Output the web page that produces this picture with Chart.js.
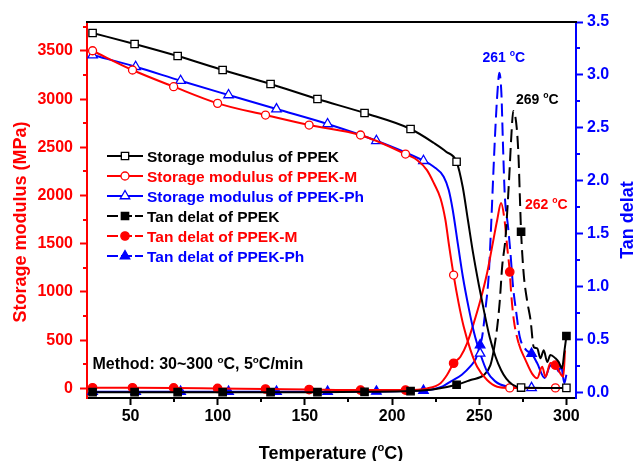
<!DOCTYPE html>
<html><head><meta charset="utf-8">
<script src="https://cdn.jsdelivr.net/npm/chart.js@4/dist/chart.umd.min.js"></script>
<style>html,body{margin:0;padding:0;background:#fff}</style>
</head><body>
<canvas id="c" width="633" height="461"></canvas>
<script>
// ---------- tick labels ----------
const xTicks = [50, 100, 150, 200, 250, 300];
const xMinorTicks = [75, 125, 175, 225, 275];
const yLeftTicks = [0, 500, 1000, 1500, 2000, 2500, 3000, 3500];
const yLeftMinorTicks = [250, 750, 1250, 1750, 2250, 2750, 3250, 3750];
const yRightTicks = [0, 0.5, 1.0, 1.5, 2.0, 2.5, 3.0, 3.5];
const yRightMinorTicks = [0.25, 0.75, 1.25, 1.75, 2.25, 2.75, 3.25];

// ---------- series names ----------
const seriesNames = [
  'Storage modulus of PPEK', 'Storage modulus of PPEK-M', 'Storage modulus of PPEK-Ph',
  'Tan delat of PPEK', 'Tan delat of PPEK-M', 'Tan delat of PPEK-Ph'
];

// ---------- marker temperatures (°C) ----------
const markT_PPEK = [28.2, 52.3, 77, 102.8, 130.3, 157.2, 184.2, 210.6, 237, 274, 300];
const markT_M    = [28.2, 51.1, 74.7, 99.9, 127.4, 152.4, 181.9, 207.7, 235.3, 267.5, 293.7];
const markT_Ph   = [28.2, 52.9, 78.7, 106.2, 133.7, 163, 191, 218, 250.5, 280];

// ---------- storage modulus (MPa) ----------
const storPPEK_T = [28.2, 52.3, 77, 102.8, 130.3, 157.2, 184.2, 210.6, 224, 231, 237, 240.5, 243.5, 246.5, 249.8, 253, 256, 259.3, 262.5, 265.5, 269, 274, 287, 300];
const storPPEK_V = [3686, 3572, 3447, 3302, 3157, 3001, 2856, 2690, 2545, 2455, 2350, 2091, 1746, 1400, 1070, 778, 530, 330, 190, 100, 40, 8, 5, 5];

const storM_T = [28.2, 51.1, 74.7, 99.9, 127.4, 152.4, 181.9, 207.7, 214.3, 220, 224, 227.8, 230.6, 232.5, 235.3, 238.2, 241.1, 245, 248.8, 254.5, 260.3, 267.5, 293.7, 300];
const storM_V = [3502, 3302, 3129, 2956, 2835, 2731, 2628, 2430, 2369, 2264, 2127, 1970, 1746, 1504, 1175, 882, 639, 397, 224, 86, 17, 5, 5, 5];

const storPh_T = [28.2, 52.9, 78.7, 106.2, 133.7, 163, 191, 218, 223.9, 229.6, 232.5, 234.8, 237.8, 240.6, 244, 247, 249, 250.5, 254.5, 259, 266, 280, 300];
const storPh_V = [3457, 3336, 3191, 3043, 2897, 2742, 2568, 2361, 2299, 2195, 2057, 1850, 1490, 1158, 830, 580, 450, 363, 175, 75, 20, 5, 5];

// ---------- tan delta ----------
const tanPPEK_T = [28.2, 52.3, 77, 102.8, 130.3, 157.2, 184.2, 210.6, 225, 237, 245, 252.6, 256.4, 258.3, 260.3, 261.7, 263.2, 265, 266.2, 267.2, 268.5, 269.5, 271.5, 272.6, 273.3, 274, 275.5, 277.4, 279.4, 281.3, 283.2, 285.1, 287, 289, 290.8, 293.7, 295.6, 297.5, 298.9, 300];
const tanPPEK_V = [0.005, 0.005, 0.005, 0.005, 0.005, 0.005, 0.008, 0.015, 0.035, 0.075, 0.12, 0.167, 0.26, 0.40, 0.62, 0.85, 1.2, 1.45, 1.75, 2.04, 2.45, 2.66, 2.5, 2.2, 1.85, 1.52, 1.12, 0.875, 0.69, 0.43, 0.42, 0.325, 0.40, 0.29, 0.356, 0.325, 0.29, 0.23, 0.40, 0.535];

const tanM_T = [28.2, 51.1, 74.7, 99.9, 127.4, 152.4, 181.9, 207.7, 220, 227.8, 231.5, 235.3, 239.2, 243, 246.8, 250.7, 254.5, 257.4, 260.3, 262.5, 264.5, 266, 267.5, 268.3, 269.8, 272.6, 276.5, 280.3, 283.2, 286.1, 288, 290.8, 293.7, 296.6, 298.2, 299.2];
const tanM_V = [0.047, 0.047, 0.045, 0.04, 0.035, 0.03, 0.025, 0.025, 0.04, 0.09, 0.167, 0.278, 0.34, 0.466, 0.655, 0.875, 1.13, 1.38, 1.63, 1.79, 1.63, 1.38, 1.14, 0.94, 0.69, 0.466, 0.31, 0.18, 0.136, 0.245, 0.15, 0.28, 0.26, 0.18, 0.15, 0.40];

const tanPh_T = [28.2, 52.9, 78.7, 106.2, 133.7, 163, 191, 218, 229, 234, 240, 245, 248, 250.5, 251.7, 253.5, 255.4, 256.8, 258, 259.3, 260.5, 261.5, 262.7, 263.6, 264.6, 266.5, 267.9, 269.4, 271.3, 273.2, 277.1, 280, 283.2, 287.5, 290.5, 293.5, 295.5, 297, 298.8, 300];
const tanPh_V = [0.01, 0.01, 0.01, 0.01, 0.01, 0.01, 0.012, 0.02, 0.06, 0.11, 0.17, 0.25, 0.32, 0.45, 0.53, 0.78, 1.10, 1.57, 2.04, 2.51, 2.85, 3.02, 2.83, 2.35, 1.88, 1.57, 1.32, 1.0, 0.75, 0.53, 0.40, 0.37, 0.28, 0.14, 0.25, 0.27, 0.20, 0.25, 0.09, 0.17];

// ---------- annotations ----------
const peakLabels = ['261 °C', '269 °C', '262 °C'];
const methodText = 'Method: 30~300 °C, 5°C/min';
const xTitle = 'Temperature (°C)';
const yLeftTitle = 'Storage modulus (MPa)';
const yRightTitle = 'Tan delat';

// ================= styling / build =================
const FONT = '"Liberation Sans", Arial, Helvetica, sans-serif';
const RED = '#ff0000', BLUE = '#0000ff', BLACK = '#000000';
const DASH = [13, 6];

function pts(T, V) { return T.map((t, i) => ({ x: t, y: V[i] })); }
function markerRadius(marks, r) {
  return ctx => {
    const d = ctx.raw; if (!d) return 0;
    return marks.some(m => Math.abs(m - d.x) < 1e-6) ? r : 0;
  };
}
function dashRange(a, b) {
  return ctx => {
    const ds = ctx.chart.data.datasets[ctx.datasetIndex].data;
    const t0 = ds[ctx.p0DataIndex].x;
    return (t0 >= a && t0 < b) ? DASH : undefined;
  };
}

const styles = [
  { color: BLACK, shape: 'rect', fill: '#ffffff', r: 5.2, axis: 'y', dash: null, marks: markT_PPEK },
  { color: RED, shape: 'circle', fill: '#ffffff', r: 4, axis: 'y', dash: null, marks: markT_M },
  { color: BLUE, shape: 'triangle', fill: '#ffffff', r: 5.5, axis: 'y', dash: null, marks: markT_Ph },
  { color: BLACK, shape: 'rect', fill: BLACK, r: 5.2, axis: 'y1', dash: [257, 282], marks: markT_PPEK },
  { color: RED, shape: 'circle', fill: RED, r: 4.2, axis: 'y1', dash: [262.5, 272], marks: markT_M },
  { color: BLUE, shape: 'triangle', fill: BLUE, r: 5.5, axis: 'y1', dash: [250.5, 280], marks: markT_Ph },
];
const seriesData = [
  pts(storPPEK_T, storPPEK_V), pts(storM_T, storM_V), pts(storPh_T, storPh_V),
  pts(tanPPEK_T, tanPPEK_V), pts(tanM_T, tanM_V), pts(tanPh_T, tanPh_V)
];

const datasets = seriesData.map((d, i) => {
  const s = styles[i];
  const ds = {
    label: seriesNames[i],
    data: d,
    yAxisID: s.axis,
    borderColor: s.color,
    borderWidth: 2,
    showLine: true,
    cubicInterpolationMode: 'monotone',
    pointStyle: s.shape,
    pointRadius: markerRadius(s.marks, s.r),
    pointHoverRadius: 0,
    pointBackgroundColor: s.fill,
    pointBorderColor: s.color,
    pointBorderWidth: 1.3,
    fill: false,
  };
  if (s.dash) ds.segment = { borderDash: dashRange(s.dash[0], s.dash[1]) };
  return ds;
});

function setTicks(list) { return scale => { scale.ticks = list.map(v => ({ value: v })); }; }

// rich text: '°' drawn as superscript small 'o'
function drawRich(ctx, text, x, y, size, color, align) {
  const parts = [];
  text.split('°').forEach((p, i, arr) => {
    if (p) parts.push({ t: p, sup: false });
    if (i < arr.length - 1) parts.push({ t: 'o', sup: true });
  });
  const fN = 'bold ' + size + 'px ' + FONT;
  const fS = 'bold ' + (size * 0.62).toFixed(1) + 'px ' + FONT;
  let total = 0;
  parts.forEach(p => { ctx.font = p.sup ? fS : fN; p.w = ctx.measureText(p.t).width; total += p.w; });
  let cx = align === 'center' ? x - total / 2 : x;
  ctx.fillStyle = color;
  ctx.textAlign = 'left';
  parts.forEach(p => {
    ctx.font = p.sup ? fS : fN;
    ctx.fillText(p.t, cx, p.sup ? y - size * 0.42 : y);
    cx += p.w;
  });
}

function drawMarker(ctx, shape, x, y, r, fill, stroke) {
  ctx.save();
  ctx.beginPath();
  if (shape === 'rect') {
    const s = r * Math.SQRT1_2;
    ctx.rect(x - s, y - s, 2 * s, 2 * s);
  } else if (shape === 'circle') {
    ctx.arc(x, y, r, 0, Math.PI * 2);
  } else {
    let a = 0;
    ctx.moveTo(x + Math.sin(a) * r, y - Math.cos(a) * r);
    a += Math.PI * 2 / 3; ctx.lineTo(x + Math.sin(a) * r, y - Math.cos(a) * r);
    a += Math.PI * 2 / 3; ctx.lineTo(x + Math.sin(a) * r, y - Math.cos(a) * r);
    ctx.closePath();
  }
  ctx.fillStyle = fill; ctx.fill();
  ctx.lineWidth = 1.3; ctx.strokeStyle = stroke; ctx.stroke();
  ctx.restore();
}

const decor = {
  id: 'decor',
  afterDraw(chart) {
    const ctx = chart.ctx, ca = chart.chartArea;
    const xs = chart.scales.x, yl = chart.scales.y, yr = chart.scales.y1;
    ctx.save();
    // top frame line
    ctx.strokeStyle = BLACK; ctx.lineWidth = 2;
    ctx.beginPath(); ctx.moveTo(ca.left - 1, ca.top); ctx.lineTo(ca.right + 1, ca.top); ctx.stroke();
    // minor ticks
    ctx.lineWidth = 2;
    ctx.strokeStyle = BLACK;
    xMinorTicks.forEach(v => { const p = Math.round(xs.getPixelForValue(v)); ctx.beginPath(); ctx.moveTo(p, ca.bottom); ctx.lineTo(p, ca.bottom + 4); ctx.stroke(); });
    ctx.strokeStyle = RED;
    yLeftMinorTicks.forEach(v => { const p = Math.round(yl.getPixelForValue(v)); if (p < ca.top) return; ctx.beginPath(); ctx.moveTo(ca.left, p); ctx.lineTo(ca.left - 4, p); ctx.stroke(); });
    ctx.strokeStyle = BLUE;
    yRightMinorTicks.forEach(v => { const p = Math.round(yr.getPixelForValue(v)); ctx.beginPath(); ctx.moveTo(ca.right, p); ctx.lineTo(ca.right + 4, p); ctx.stroke(); });

    // axis titles
    ctx.textBaseline = 'alphabetic';
    drawRich(ctx, xTitle, 331, 459, 18, BLACK, 'center');
    ctx.save(); ctx.translate(26, 222); ctx.rotate(-Math.PI / 2);
    drawRich(ctx, yLeftTitle, 0, 0, 18, RED, 'center'); ctx.restore();
    ctx.save(); ctx.translate(633, 220); ctx.rotate(-Math.PI / 2);
    drawRich(ctx, yRightTitle, 0, 0, 18, BLUE, 'center'); ctx.restore();

    // annotations
    drawRich(ctx, peakLabels[0], 482.5, 61.7, 14, BLUE, 'left');
    drawRich(ctx, peakLabels[1], 516, 104, 14, BLACK, 'left');
    drawRich(ctx, peakLabels[2], 525, 209.3, 14, RED, 'left');
    drawRich(ctx, methodText, 92.5, 369.3, 16, BLACK, 'left');

    // legend
    for (let i = 0; i < 6; i++) {
      const s = styles[i];
      const base = 161.5 + i * 20;
      const cy = base - 5.5;
      ctx.save();
      ctx.strokeStyle = s.color; ctx.lineWidth = 2;
      if (s.dash) ctx.setLineDash([11, 3]);
      ctx.beginPath(); ctx.moveTo(107, cy); ctx.lineTo(143, cy); ctx.stroke();
      ctx.restore();
      drawMarker(ctx, s.shape, 125, cy, s.r, s.fill, s.color);
      drawRich(ctx, seriesNames[i], 147, base, 15.5, s.color, 'left');
    }
    ctx.restore();
  }
};

Chart.defaults.font.family = FONT;

new Chart(document.getElementById('c'), {
  type: 'scatter',
  data: { datasets },
  options: {
    responsive: false,
    animation: false,
    devicePixelRatio: 1,
    layout: { padding: { top: 22, left: 0, right: 0, bottom: 0 } },
    plugins: { legend: { display: false }, tooltip: { enabled: false } },
    scales: {
      x: {
        type: 'linear', min: 25, max: 305.5,
        afterBuildTicks: setTicks(xTicks),
        afterFit: s => { s.height = 63; },
        grid: { drawOnChartArea: false, drawTicks: true, tickLength: 7, tickWidth: 2, tickColor: BLACK },
        border: { display: true, color: BLACK, width: 2 },
        ticks: { color: BLACK, font: { size: 16, weight: 'bold' }, padding: 2, maxRotation: 0 },
      },
      y: {
        type: 'linear', position: 'left', min: -100, max: 3800,
        afterBuildTicks: setTicks(yLeftTicks),
        afterFit: s => { s.width = 87; },
        grid: { drawOnChartArea: false, drawTicks: true, tickLength: 7, tickWidth: 2, tickColor: RED },
        border: { display: true, color: RED, width: 2 },
        ticks: { color: RED, font: { size: 16, weight: 'bold' }, padding: 7, callback: v => String(v) },
      },
      y1: {
        type: 'linear', position: 'right', min: -0.05, max: 3.5,
        afterBuildTicks: setTicks(yRightTicks),
        afterFit: s => { s.width = 57; },
        grid: { drawOnChartArea: false, drawTicks: true, tickLength: 7, tickWidth: 2, tickColor: BLUE },
        border: { display: true, color: BLUE, width: 2 },
        ticks: { color: BLUE, font: { size: 16, weight: 'bold' }, padding: 4, callback: v => Number(v).toFixed(1) },
      }
    }
  },
  plugins: [decor]
});
</script>
</body></html>
